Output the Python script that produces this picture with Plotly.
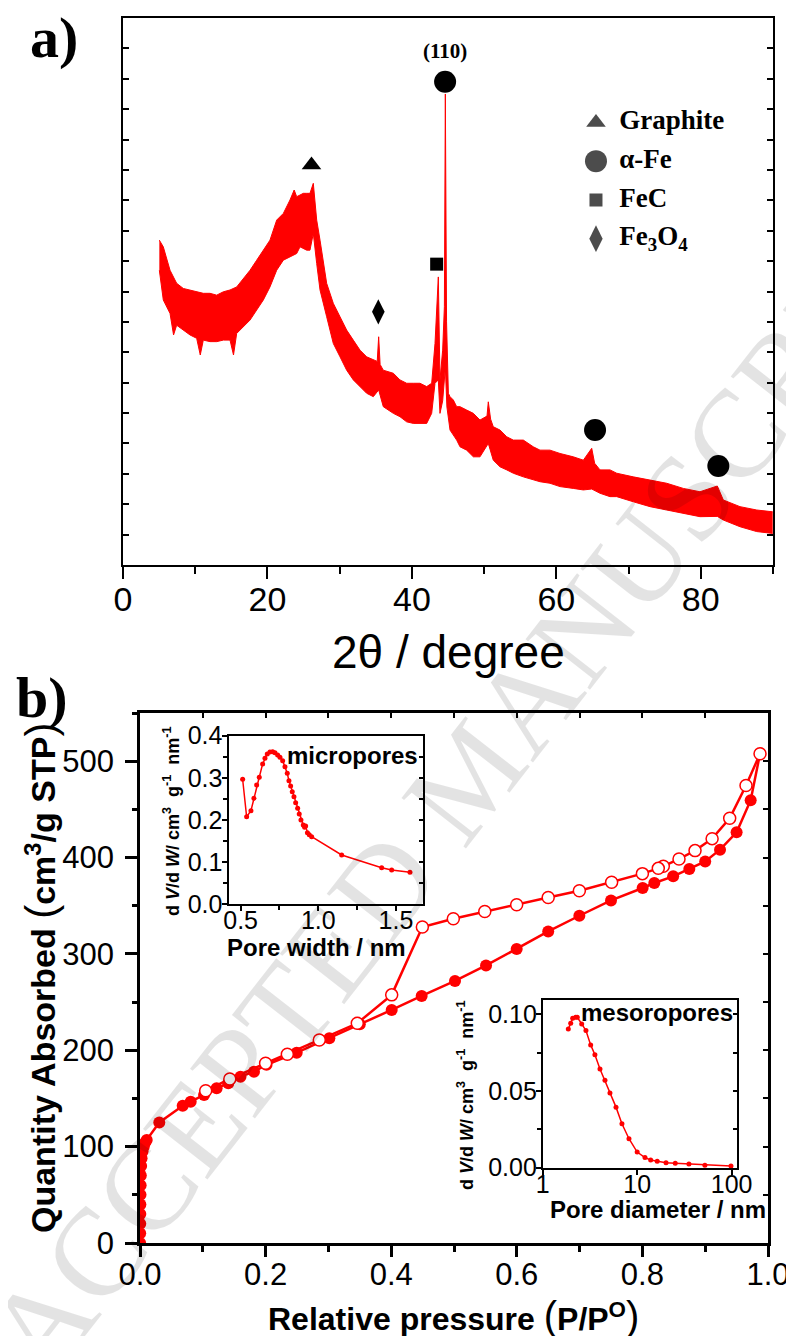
import plotly.graph_objects as go

# the page body adds an 8 px margin; the figure is sized and placed to compensate
PAGE_W, PAGE_H, OFF = 794, 1336, 8
FIG_W, FIG_H = PAGE_W - OFF, PAGE_H - OFF
RED = "#ff0000"
SANS = "Liberation Sans"
SERIF = "Liberation Serif"

# ---------------- (a) XRD pattern (noisy trace read as upper / lower envelope) ----------------
xrd_upper_2theta = [5.03, 5.58, 6.51, 7.43, 8.35, 9.28, 10.20, 11.12, 12.05, 12.97, 13.89, 14.82,
                    15.74, 16.66, 17.59, 18.51, 19.43, 20.35, 21.28, 22.20, 23.12, 23.70, 24.05,
                    24.97, 25.43, 25.89, 26.35, 26.82, 27.28, 28.20, 29.12, 30.05, 30.97, 31.89,
                    32.82, 33.74, 34.66, 35.20, 35.40, 35.60, 36.04, 37.43, 38.35, 39.28, 40.20,
                    41.12, 42.05, 42.74, 43.20, 43.66, 43.89, 44.26, 44.50, 44.63, 44.80, 45.05,
                    45.28, 45.74, 46.20, 46.66, 47.58, 48.51, 49.43, 50.40, 50.58, 50.90, 51.27,
                    52.20, 53.13, 54.04, 55.43, 56.81, 57.74, 59.12, 60.51, 62.35, 63.74, 64.90,
                    65.30, 66.05, 67.43, 68.36, 70.66, 72.97, 75.28, 77.58, 79.89, 82.29, 83.12,
                    85.43, 87.74, 89.96]
xrd_upper_int = [10.69, 10.47, 9.70, 9.27, 9.10, 9.05, 8.99, 8.94, 8.94, 8.88, 8.99, 9.05,
                 9.15, 9.43, 9.70, 10.03, 10.36, 10.69, 11.35, 11.57, 12.01, 12.34, 12.12,
                 12.23, 12.23, 12.23, 12.56, 11.35, 10.69, 9.27, 8.61, 8.17, 7.73, 7.40,
                 7.07, 6.85, 6.74, 6.70, 7.51, 6.60, 6.41, 6.31, 6.09, 5.98, 5.98,
                 5.98, 5.87, 5.98, 7.29, 9.48, 6.09, 7.07, 8.50, 15.50, 8.00, 5.65,
                 5.54, 5.43, 5.21, 5.21, 5.10, 4.99, 4.77, 4.90, 5.37, 4.80, 4.55,
                 4.44, 4.22, 4.11, 4.11, 3.89, 3.78, 3.78, 3.67, 3.56, 3.45, 3.84,
                 3.35, 3.13, 3.13, 3.02, 2.90, 2.80, 2.69, 2.52, 2.41, 2.60, 2.14,
                 1.92, 1.81, 1.75]
xrd_lower_2theta = [5.03, 5.58, 6.51, 7.00, 7.43, 8.35, 9.28, 10.20, 10.70, 11.12, 12.05, 12.97,
                    13.89, 14.82, 15.30, 15.74, 16.66, 17.59, 18.51, 19.43, 20.35, 21.28, 22.20,
                    23.12, 24.05, 24.51, 25.43, 25.89, 26.35, 26.82, 27.28, 28.20, 29.12, 30.05,
                    30.97, 31.89, 32.82, 33.74, 34.66, 35.40, 36.04, 37.43, 38.35, 39.28, 40.20,
                    41.12, 42.05, 42.74, 43.20, 43.66, 43.89, 44.26, 44.63, 44.85, 45.28, 46.20,
                    46.66, 47.58, 48.51, 49.43, 50.58, 51.27, 52.20, 53.13, 54.04, 55.43, 56.81,
                    57.74, 59.12, 60.51, 62.35, 63.74, 64.90, 66.05, 67.43, 68.36, 70.66, 72.97,
                    75.28, 77.58, 79.89, 82.29, 83.12, 85.43, 87.74, 89.96]
xrd_lower_int = [9.70, 8.72, 8.28, 7.57, 7.89, 7.73, 7.57, 7.46, 6.91, 7.40, 7.35, 7.35,
                 7.40, 7.40, 6.91, 7.62, 7.84, 8.06, 8.39, 8.72, 9.15, 9.70, 10.03,
                 10.14, 10.25, 10.47, 10.36, 10.36, 10.91, 9.92, 9.05, 8.17, 7.29, 6.85,
                 6.41, 6.09, 5.87, 5.65, 5.54, 5.76, 5.21, 4.99, 4.88, 4.71, 4.66,
                 4.66, 4.66, 4.99, 5.98, 6.09, 4.99, 5.40, 6.50, 5.20, 4.44, 4.11,
                 3.89, 3.78, 3.56, 3.56, 4.00, 3.45, 3.23, 3.13, 3.02, 2.90, 2.80,
                 2.74, 2.69, 2.58, 2.52, 2.47, 2.50, 2.36, 2.25, 2.25, 2.08, 1.92,
                 1.81, 1.70, 1.59, 1.60, 1.48, 1.26, 1.10, 1.04]

# phase markers placed above the reflections
peak_phase = ["Graphite", "Fe3O4", "FeC", "α-Fe", "α-Fe", "α-Fe"]
peak_2theta = [26.10, 35.35, 43.43, 44.60, 65.36, 82.43]
peak_mark_int = [13.16, 8.33, 9.90, 15.90, 4.44, 3.26]
hkl_label = "(110)"
hkl_peak_index = 3

legend_phase = ["Graphite", "α-Fe", "FeC", "Fe3O4"]
legend_label = ["Graphite", "α-Fe", "FeC", "Fe<sub>3</sub>O<sub>4</sub>"]
phase_symbol = {"Graphite": "triangle-up", "α-Fe": "circle", "FeC": "square", "Fe3O4": "diamond-tall"}
phase_size = {"Graphite": 17, "α-Fe": 22, "FeC": 13, "Fe3O4": 18}

# ---------------- (b) N2 isotherm ----------------
ads_p = [0.0002, 0.0003, 0.0004, 0.0005, 0.0006, 0.0008, 0.0010, 0.0013, 0.0018, 0.0025, 0.0040,
         0.0060, 0.0080, 0.0107, 0.0307, 0.068, 0.0807, 0.102, 0.122, 0.1406, 0.160, 0.1815,
         0.2015, 0.2495, 0.3015, 0.350, 0.4008, 0.4485, 0.5016, 0.551, 0.5998, 0.650, 0.6996,
         0.750, 0.8004, 0.819, 0.849, 0.8747, 0.900, 0.9236, 0.950, 0.9724, 0.9873]
ads_q = [0, 10, 20, 30, 40, 50, 60, 70, 80, 88, 95,
         100, 104, 107, 125.1, 142.4, 146.6, 153.5, 160.5, 165.7, 172.6, 177.8,
         185.0, 197.5, 212.5, 227.0, 241.9, 256.4, 272.0, 288.0, 305.0, 323.3, 339.6,
         355.5, 368.4, 373.6, 380.5, 388.2, 396.0, 408.2, 426.2, 459.5, 507.7]
des_p = [0.9873, 0.965, 0.939, 0.911, 0.8838, 0.8583, 0.8333, 0.8253, 0.800, 0.751, 0.6996,
         0.650, 0.5998, 0.549, 0.4989, 0.4496, 0.4008, 0.346, 0.2855, 0.2346, 0.200, 0.143,
         0.1046]
des_q = [507.7, 474.7, 440.7, 419.6, 407.2, 398.5, 390.9, 388.8, 383.3, 374.3, 365.6,
         358.6, 351.0, 344.0, 336.5, 327.9, 257.5, 228.0, 210.7, 195.8, 186.5, 170.2,
         158.0]

# inset: micropore size distribution
micro_w = [0.5129, 0.5386, 0.5663, 0.5856, 0.6030, 0.6198, 0.6417, 0.6565, 0.6713, 0.6887,
           0.7061, 0.7209, 0.7383, 0.7531, 0.7705, 0.7853, 0.8001, 0.8110, 0.8220, 0.8323,
           0.8432, 0.8542, 0.8670, 0.8773, 0.8883, 0.9031, 0.9120, 0.9185, 0.9300, 0.9417,
           0.9572, 1.1504, 1.4079, 1.4723, 1.5901]
micro_dv = [0.2966, 0.2078, 0.2220, 0.2515, 0.2830, 0.3013, 0.3330, 0.3464, 0.3566, 0.3613,
            0.3620, 0.3597, 0.3542, 0.3488, 0.3407, 0.3265, 0.3110, 0.2933, 0.2807, 0.2670,
            0.2553, 0.2410, 0.2278, 0.2142, 0.2000, 0.1880, 0.1830, 0.1860, 0.1700, 0.1650,
            0.1604, 0.1170, 0.0869, 0.0814, 0.0759]

# inset: mesopore size distribution
meso_d = [1.866, 1.979, 2.077, 2.234, 2.323, 2.587, 2.87, 3.22, 3.57, 4.04, 4.56, 5.15,
          5.97, 6.90, 8.19, 10.0, 12.1, 13.9, 16.3, 20.2, 25.3, 35.3, 52.1, 98.4]
meso_dv = [0.0903, 0.0942, 0.0974, 0.0980, 0.0980, 0.0937, 0.0894, 0.0800, 0.0736, 0.0643,
           0.0569, 0.0487, 0.0394, 0.0286, 0.0188, 0.0101, 0.0065, 0.0049, 0.0041, 0.0032,
           0.0028, 0.0023, 0.0015, 0.0010]


# helpers: page-pixel positions -> paper fractions of the (offset) figure
def hx(x0, x1):
    return [(x0 - OFF) / FIG_W, (x1 - OFF) / FIG_W]


def vy(top, bottom):
    return [1 - (bottom - OFF) / FIG_H, 1 - (top - OFF) / FIG_H]


def px(x, y):
    return (x - OFF) / FIG_W, 1 - (y - OFF) / FIG_H


fig = go.Figure()

# ---- panel a traces ----
fig.add_trace(go.Scatter(x=xrd_lower_2theta, y=xrd_lower_int, mode="lines",
                         line=dict(color=RED, width=1), xaxis="x", yaxis="y", hoverinfo="skip"))
fig.add_trace(go.Scatter(x=xrd_upper_2theta, y=xrd_upper_int, mode="lines", fill="tonexty",
                         fillcolor=RED, line=dict(color=RED, width=1), xaxis="x", yaxis="y"))
for ph in legend_phase:
    idx = [i for i, p in enumerate(peak_phase) if p == ph]
    fig.add_trace(go.Scatter(x=[peak_2theta[i] for i in idx], y=[peak_mark_int[i] for i in idx],
                             mode="markers", xaxis="x", yaxis="y",
                             marker=dict(symbol=phase_symbol[ph], size=phase_size[ph], color="black",
                                         line=dict(width=0))))

# legend keys (rows of a hidden helper axis)
rows = list(range(len(legend_phase)))
fig.add_trace(go.Scatter(x=[0] * len(rows), y=rows, mode="markers", xaxis="x6", yaxis="y6",
                         marker=dict(symbol=[phase_symbol[p] for p in legend_phase],
                                     size=[phase_size[p] + (1 if p == "Fe3O4" else 0) for p in legend_phase],
                                     color="black", line=dict(width=0)), hoverinfo="skip"))
fig.add_trace(go.Scatter(x=[0.58] * len(rows), y=rows, mode="text", xaxis="x6", yaxis="y6",
                         text=["<b>%s</b>" % t for t in legend_label], textposition="middle right",
                         textfont=dict(family=SERIF, size=27, color="black"), hoverinfo="skip"))

# ---- panel b traces ----
fig.add_trace(go.Scatter(x=ads_p, y=ads_q, mode="lines+markers", xaxis="x2", yaxis="y2",
                         line=dict(color=RED, width=2.5),
                         marker=dict(symbol="circle", size=12, color=RED)))
fig.add_trace(go.Scatter(x=des_p, y=des_q, mode="lines+markers", xaxis="x2", yaxis="y2",
                         line=dict(color=RED, width=2.5),
                         marker=dict(symbol="circle", size=12, color="white",
                                     line=dict(color=RED, width=1.5))))
# invisible carriers for the mirrored inward-tick axes
fig.add_trace(go.Scatter(x=ads_p, y=ads_q, mode="none", xaxis="x5", yaxis="y5", hoverinfo="skip"))
fig.add_trace(go.Scatter(x=micro_w, y=micro_dv, mode="none", xaxis="x3", yaxis="y7", hoverinfo="skip"))
fig.add_trace(go.Scatter(x=meso_d, y=meso_dv, mode="none", xaxis="x4", yaxis="y8", hoverinfo="skip"))

fig.add_trace(go.Scatter(x=micro_w, y=micro_dv, mode="lines+markers", xaxis="x3", yaxis="y3",
                         line=dict(color=RED, width=1.5), marker=dict(size=5, color=RED)))
fig.add_trace(go.Scatter(x=meso_d, y=meso_dv, mode="lines+markers", xaxis="x4", yaxis="y4",
                         line=dict(color=RED, width=1.5), marker=dict(size=5, color=RED)))

black = "black"
frame = dict(showline=True, linecolor=black, showgrid=False, zeroline=False, tickcolor=black,
             automargin=False)

layout = dict(
    width=FIG_W, height=FIG_H, margin=dict(l=0, r=0, t=0, b=0, autoexpand=False),
    paper_bgcolor="white", plot_bgcolor="rgba(0,0,0,0)", showlegend=False,
    xaxis=dict(**frame, domain=hx(123, 773), anchor="y", range=[0, 90], tick0=0, dtick=20,
               ticks="outside", ticklen=12, tickwidth=2, linewidth=2, mirror=True,
               minor=dict(dtick=10, tick0=0, ticks="outside", ticklen=7, tickwidth=2, tickcolor=black),
               tickfont=dict(family=SANS, size=34, color=black), ticklabelstandoff=-9),
    yaxis=dict(**frame, domain=vy(18, 565), anchor="x", range=[0, 18], dtick=1,
               ticks="inside", ticklen=6, tickwidth=1.5, linewidth=2, mirror="ticks",
               showticklabels=False),
    xaxis2=dict(**frame, domain=hx(140, 768), anchor="y2", range=[0, 1.0], tick0=0, dtick=0.2,
                tickformat=".1f", ticks="outside", ticklen=11, tickwidth=2.5, linewidth=2.7,
                minor=dict(dtick=0.1, tick0=0, ticks="outside", ticklen=6, tickwidth=2.5, tickcolor=black),
                tickfont=dict(family=SANS, size=31, color=black), ticklabelstandoff=-9),
    yaxis2=dict(**frame, domain=vy(713, 1243), anchor="x2", range=[0, 550], tick0=0, dtick=100,
                ticks="outside", ticklen=12, tickwidth=2.5, linewidth=2.7,
                minor=dict(dtick=50, tick0=0, ticks="outside", ticklen=5, tickwidth=2.5, tickcolor=black),
                tickfont=dict(family=SANS, size=31, color=black), ticklabelstandoff=5),
    xaxis5=dict(**frame, overlaying="x2", anchor="y2", side="top", range=[0, 1.0], tick0=0, dtick=0.1,
                ticks="inside", ticklen=5, tickwidth=2, linewidth=2.7, showticklabels=False),
    yaxis5=dict(**frame, overlaying="y2", anchor="x2", side="right", range=[0, 550], tick0=0, dtick=50,
                ticks="inside", ticklen=5, tickwidth=2, linewidth=2.7, showticklabels=False),
    xaxis3=dict(**frame, domain=hx(229.3, 423.3), anchor="y3", range=[0.427, 1.676], tick0=0.5,
                dtick=0.5, tickformat=".1f", ticks="outside", ticklen=5, tickwidth=1.5, linewidth=1.7,
                mirror=True, minor=dict(dtick=0.25, tick0=0.5, ticks="outside", ticklen=4, tickwidth=1.5,
                                        tickcolor=black),
                tickfont=dict(family=SANS, size=25, color=black), ticklabelstandoff=-12),
    yaxis3=dict(**frame, domain=vy(735.7, 904.3), anchor="x3", range=[0, 0.4], tick0=0, dtick=0.1,
                tickformat=".1f", ticks="outside", ticklen=5, tickwidth=1.5, linewidth=1.7,
                minor=dict(dtick=0.05, tick0=0, ticks="outside", ticklen=4, tickwidth=1.5, tickcolor=black),
                tickfont=dict(family=SANS, size=25, color=black), ticklabelstandoff=-5),
    yaxis7=dict(**frame, overlaying="y3", anchor="x3", side="right", range=[0, 0.4], tick0=0, dtick=0.05,
                ticks="inside", ticklen=4, tickwidth=1.5, linewidth=1.7, showticklabels=False),
    xaxis4=dict(**frame, type="log", domain=hx(542.7, 737.3), anchor="y4", range=[0, 2.06], dtick=1,
                ticks="outside", ticklen=5, tickwidth=1.5, linewidth=1.7, mirror=True,
                tickfont=dict(family=SANS, size=25, color=black), ticklabelstandoff=-12),
    yaxis4=dict(**frame, domain=vy(1000, 1168.3), anchor="x4", range=[-0.0005, 0.1093], tick0=0,
                dtick=0.05, tickformat=".2f", ticks="outside", ticklen=5, tickwidth=1.5, linewidth=1.7,
                minor=dict(dtick=0.025, tick0=0, ticks="outside", ticklen=4, tickwidth=1.5, tickcolor=black),
                tickfont=dict(family=SANS, size=25, color=black), ticklabelstandoff=-6),
    yaxis8=dict(**frame, overlaying="y4", anchor="x4", side="right", range=[-0.0005, 0.1093], tick0=0,
                dtick=0.025, ticks="inside", ticklen=4, tickwidth=1.5, linewidth=1.7, showticklabels=False),
    # hidden helper axes for the phase legend rows
    xaxis6=dict(domain=hx(555.8, 754.3), anchor="y6", range=[-1, 3.94], visible=False, automargin=False),
    yaxis6=dict(domain=vy(103, 258), anchor="x6", range=[3.5, -0.5], visible=False, automargin=False),
)
fig.update_layout(**layout)

ann = []


def add_text(x, y, text, size, family=SANS, angle=0, xanchor="center", color=black, **kw):
    xp, yp = px(x, y)
    ann.append(dict(x=xp, y=yp, xref="paper", yref="paper", text=text, showarrow=False,
                    textangle=angle, xanchor=xanchor, yanchor="middle",
                    font=dict(family=family, size=size, color=color), **kw))


# watermark of the source page
add_text(470, 775, "ACCEPTED MANUSCRIPT", 125, family=SERIF, angle=-52, color="rgba(0,0,0,0.11)")

add_text(54, 38, "<b>a)</b>", 58, family=SERIF)
add_text(42, 697, "<b>b)</b>", 58, family=SERIF)
add_text(448, 652, "2θ / degree", 46)

ann.append(dict(x=peak_2theta[hkl_peak_index], y=peak_mark_int[hkl_peak_index], xref="x", yref="y",
                text="<b>%s</b>" % hkl_label, showarrow=False, yshift=31,
                font=dict(family=SERIF, size=21, color=black)))

big = "<span style='font-size:40px;font-weight:normal'>%s</span>"
add_text(453, 1316, "<b>Relative pressure </b>" + big % "(" + "<b>P/P<sup>O</sup></b>" + big % ")", 32)
big2 = "<span style='font-size:42px;font-weight:normal'>%s</span>"
add_text(40, 978, "<b>Quantity Absorbed </b>" + big2 % "(" + "<b>cm<sup>3</sup>/g STP</b>" + big2 % ")",
         34, angle=-90)

ylab = ("<b>d <i>V</i>/d <i>W</i>/ cm<sup>3</sup>&nbsp; g<sup>-1</sup>&nbsp; nm<sup>-1</sup></b>")
add_text(171, 822, ylab, 18, angle=-90)
add_text(465, 1095, ylab, 18, angle=-90)
add_text(316, 947, "<b>Pore width / nm</b>", 24)
add_text(658, 1209, "<b>Pore diameter / nm</b>", 24)
add_text(352, 755, "<b>micropores</b>", 24)
add_text(657, 1012, "<b>mesoropores</b>", 24)

fig.update_layout(annotations=ann)
fig.write_html("out.html")
